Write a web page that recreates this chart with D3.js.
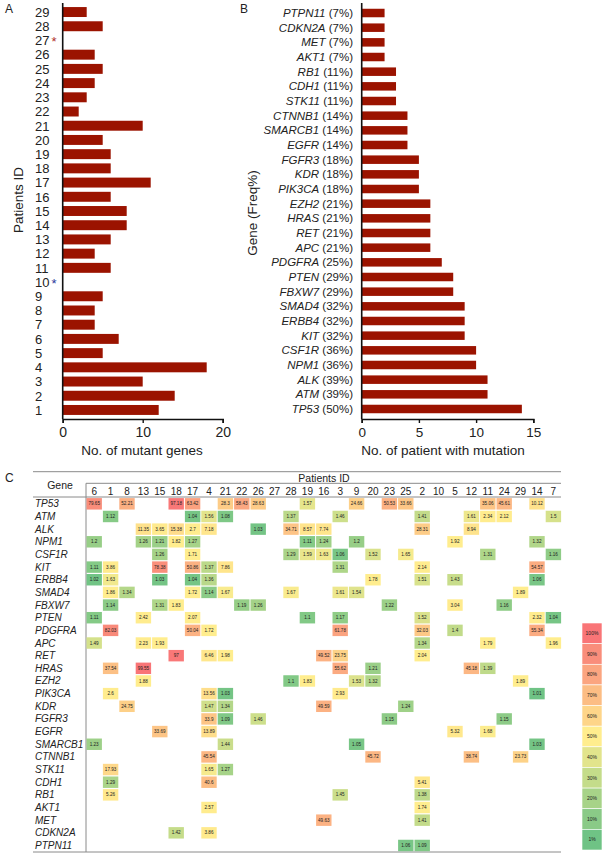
<!DOCTYPE html>
<meta charset='utf-8'>
<head>
    <title>Mutations</title>
    <script src='https://cdn.jsdelivr.net/npm/d3@7/dist/d3.min.js'></script>
</head>

<style>
    body { margin: 0; background: #fff; }
    svg text { font-family: 'Liberation Sans', Arial, sans-serif; fill: #222; }
    .bar { fill: #9b1300; }
    .axis path, .axis line { stroke: #111; }
    .grid { stroke: #8a8a8a; stroke-width: 1; }
</style>

<svg></svg>

<script>
    // panel A: mutant genes per patient
    var patientIds = [1, 2, 3, 4, 5, 6, 7, 8, 9, 10, 11, 12, 13, 14, 15, 16, 17, 18, 19, 20, 21, 22, 23, 24, 25, 26, 27, 28, 29];
    var mutantCounts = [12, 14, 10, 18, 5, 7, 4, 4, 5, 0, 6, 4, 6, 8, 8, 6, 11, 6, 6, 5, 10, 2, 3, 4, 5, 4, 0, 5, 3];
    var starredIds = [10, 27];
    var countTicks = [0, 10, 20];

    // panel B: patients per gene
    var freqGenes = ['PTPN11', 'CDKN2A', 'MET', 'AKT1', 'RB1', 'CDH1', 'STK11', 'CTNNB1', 'SMARCB1', 'EGFR',
        'FGFR3', 'KDR', 'PIK3CA', 'EZH2', 'HRAS', 'RET', 'APC', 'PDGFRA', 'PTEN', 'FBXW7',
        'SMAD4', 'ERBB4', 'KIT', 'CSF1R', 'NPM1', 'ALK', 'ATM', 'TP53'];
    var freqPct = [7, 7, 7, 7, 11, 11, 11, 14, 14, 14, 18, 18, 18, 21, 21, 21, 21, 25, 29, 29, 32, 32, 32, 36, 36, 39, 39, 50];
    var freqCounts = [2, 2, 2, 2, 3, 3, 3, 4, 4, 4, 5, 5, 5, 6, 6, 6, 6, 7, 8, 8, 9, 9, 9, 10, 10, 11, 11, 14];
    var freqTicks = [0, 5, 10, 15];

    // panel C: allele frequency per gene / patient
    var heatPatients = [6, 1, 8, 13, 15, 18, 17, 4, 21, 22, 26, 27, 28, 19, 16, 3, 9, 20, 23, 25, 2, 10, 5, 12, 11, 24, 29, 14, 7];
    var heatGenes = ['TP53', 'ATM', 'ALK', 'NPM1', 'CSF1R', 'KIT', 'ERBB4', 'SMAD4', 'FBXW7', 'PTEN', 'PDGFRA', 'APC',
        'RET', 'HRAS', 'EZH2', 'PIK3CA', 'KDR', 'FGFR3', 'EGFR', 'SMARCB1', 'CTNNB1', 'STK11', 'CDH1', 'RB1',
        'AKT1', 'MET', 'CDKN2A', 'PTPN11'];
    var heatValues = [
        [[6, 79.65], [8, 52.21], [18, 97.18], [17, 63.42], [21, 28.3], [22, 58.43], [26, 28.63], [19, 1.57], [9, 24.66], [23, 50.53], [25, 33.66], [11, 35.06], [24, 45.61], [14, 10.12]],
        [[1, 1.12], [17, 1.04], [4, 1.56], [21, 1.08], [28, 1.37], [3, 1.46], [2, 1.41], [12, 1.61], [11, 2.34], [24, 2.12], [7, 1.5]],
        [[13, 11.35], [15, 3.65], [18, 15.38], [17, 2.7], [4, 7.18], [26, 1.03], [28, 34.71], [19, 8.57], [16, 7.74], [2, 28.31], [12, 8.94]],
        [[6, 1.2], [13, 1.26], [15, 1.21], [18, 1.82], [17, 1.27], [19, 1.11], [16, 1.24], [9, 1.2], [5, 1.92], [14, 1.32]],
        [[15, 1.26], [17, 1.71], [28, 1.29], [19, 1.59], [16, 1.63], [3, 1.06], [20, 1.52], [25, 1.65], [11, 1.31], [7, 1.16]],
        [[6, 1.11], [1, 3.86], [15, 78.38], [17, 50.86], [4, 1.37], [21, 7.86], [3, 1.31], [2, 2.14], [14, 54.57]],
        [[6, 1.02], [1, 1.63], [15, 1.03], [17, 1.04], [4, 1.36], [20, 1.78], [2, 1.51], [5, 1.43], [14, 1.06]],
        [[1, 1.86], [8, 1.34], [17, 1.72], [4, 1.14], [21, 1.67], [28, 1.67], [3, 1.61], [9, 1.54], [29, 1.89]],
        [[1, 1.14], [15, 1.31], [18, 1.83], [22, 1.19], [26, 1.26], [23, 1.22], [5, 3.04], [24, 1.16]],
        [[6, 1.11], [13, 2.42], [17, 2.07], [19, 1.1], [3, 1.17], [2, 1.52], [14, 2.32], [7, 1.04]],
        [[1, 82.03], [17, 50.04], [4, 1.72], [3, 61.78], [2, 32.03], [5, 1.4], [14, 55.34]],
        [[6, 1.49], [13, 2.23], [15, 1.93], [2, 1.34], [11, 1.79], [7, 1.96]],
        [[18, 97], [4, 6.46], [21, 1.98], [16, 49.52], [3, 23.75], [2, 2.04]],
        [[1, 37.54], [13, 99.55], [3, 55.62], [20, 1.21], [12, 45.18], [11, 1.39]],
        [[13, 1.88], [28, 1.1], [19, 1.83], [9, 1.53], [20, 1.32], [29, 1.89]],
        [[1, 2.6], [4, 13.56], [21, 1.03], [3, 2.93], [14, 1.01]],
        [[8, 24.75], [4, 1.47], [21, 1.34], [16, 49.59], [25, 1.24]],
        [[4, 33.9], [21, 1.09], [26, 1.46], [23, 1.15], [24, 1.15]],
        [[15, 33.69], [4, 13.89], [5, 5.32], [11, 1.68]],
        [[6, 1.23], [21, 1.44], [9, 1.05], [14, 1.03]],
        [[4, 45.54], [20, 45.72], [12, 38.74], [29, 23.73]],
        [[1, 17.93], [4, 1.65], [21, 1.27]],
        [[1, 1.29], [4, 40.6], [2, 5.41]],
        [[1, 5.26], [3, 1.45], [2, 1.38]],
        [[4, 2.57], [2, 1.74]],
        [[16, 49.63], [2, 1.41]],
        [[18, 1.42], [4, 3.86]],
        [[25, 1.06], [2, 1.09]]
    ];
    var legendSteps = [100, 90, 80, 70, 60, 50, 40, 30, 20, 10, 1];

    var svg = d3.select('svg').attr('width', 604).attr('height', 853);

    // panel letters
    svg.append('text').attr('x', 5).attr('y', 13).style('font-size', '12px').text('A');
    svg.append('text').attr('x', 240).attr('y', 13).style('font-size', '12px').text('B');
    svg.append('text').attr('x', 5).attr('y', 482).style('font-size', '12px').text('C');

    // ---------- A ----------
    var gA = svg.append('g');
    var yA = d3.scaleBand().domain(patientIds.slice().reverse()).range([2.8, 419.2]).padding(0.3);
    var xA = d3.scaleLinear().domain([0, 20]).range([62.7, 222.7]);

    gA.selectAll('rect').data(patientIds).enter().append('rect')
        .attr('class', 'bar')
        .attr('x', xA(0))
        .attr('y', function (d) { return yA(d); })
        .attr('height', yA.bandwidth())
        .attr('width', function (d, i) { return xA(mutantCounts[i]) - xA(0); });

    gA.selectAll('.pid').data(patientIds).enter().append('text')
        .attr('class', 'pid')
        .attr('x', 35)
        .attr('y', function (d) { return yA(d) + yA.bandwidth() / 2 + 4.8; })
        .style('font-size', '13px')
        .text(function (d) { return d; });

    gA.selectAll('.star').data(starredIds).enter().append('text')
        .attr('x', 51.5)
        .attr('y', function (d) { return yA(d) + yA.bandwidth() / 2 + 5.5; })
        .style('font-size', '13px')
        .style('fill', function (d) { return d === 27 ? '#b0302c' : '#2a3a9c'; })
        .text('*');

    gA.append('line').attr('x1', xA(0)).attr('x2', xA(0)).attr('y1', 3).attr('y2', 419)
        .attr('stroke', '#111').attr('stroke-width', 1.6);
    gA.append('g').attr('class', 'axis').attr('transform', 'translate(0,419)')
        .call(d3.axisBottom(xA).tickValues(countTicks).tickSizeOuter(0).tickSize(4).tickPadding(4))
        .call(function (g) {
            g.select('.domain').attr('stroke-width', 1.6);
            g.selectAll('line').attr('stroke-width', 1.4);
            g.selectAll('text').style('font-size', '14px').style('font-family', 'Liberation Sans, Arial').attr('fill', '#222');
        });
    gA.append('text').attr('x', 142).attr('y', 455).attr('text-anchor', 'middle')
        .style('font-size', '13.5px').text('No. of mutant genes');
    gA.append('text').attr('transform', 'translate(23,200) rotate(-90)').attr('text-anchor', 'middle')
        .style('font-size', '13.5px').text('Patients ID');

    // ---------- B ----------
    var gB = svg.append('g');
    var yB = d3.scaleBand().domain(freqGenes).range([2.6, 419.4]).padding(0.42);
    var xB = d3.scaleLinear().domain([0, 15]).range([361.7, 533.3]);

    gB.selectAll('rect').data(freqGenes).enter().append('rect')
        .attr('class', 'bar')
        .attr('x', xB(0))
        .attr('y', function (d) { return yB(d); })
        .attr('height', yB.bandwidth())
        .attr('width', function (d, i) { return xB(freqCounts[i]) - xB(0); });

    var gl = gB.selectAll('.gl').data(freqGenes).enter().append('text')
        .attr('x', 353)
        .attr('y', function (d) { return yB(d) + yB.bandwidth() / 2 + 4; })
        .attr('text-anchor', 'end')
        .style('font-size', '11.5px');
    gl.append('tspan').style('font-style', 'italic').text(function (d) { return d; });
    gl.append('tspan').text(function (d, i) { return ' (' + freqPct[i] + '%)'; });

    gB.append('line').attr('x1', xB(0)).attr('x2', xB(0)).attr('y1', 3).attr('y2', 419)
        .attr('stroke', '#111').attr('stroke-width', 1.6);
    gB.append('g').attr('class', 'axis').attr('transform', 'translate(0,419)')
        .call(d3.axisBottom(xB).tickValues(freqTicks).tickSizeOuter(0).tickSize(4).tickPadding(4))
        .call(function (g) {
            g.select('.domain').attr('stroke-width', 1.6);
            g.selectAll('line').attr('stroke-width', 1.4);
            g.selectAll('text').style('font-size', '13.5px').style('font-family', 'Liberation Sans, Arial').attr('fill', '#222');
        });
    gB.append('text').attr('x', 443).attr('y', 455).attr('text-anchor', 'middle')
        .style('font-size', '13.5px').text('No. of patient with mutation');
    gB.append('text').attr('transform', 'translate(257,213) rotate(-90)').attr('text-anchor', 'middle')
        .style('font-size', '13.5px').text('Gene (Freq%)');

    // ---------- C ----------
    var gC = svg.append('g');
    var xC = d3.scaleBand().domain(heatPatients).range([86, 561.6]);
    var yC = d3.scaleBand().domain(heatGenes).range([497.5, 851.8]);

    var cells = [];
    heatGenes.forEach(function (g, i) {
        heatValues[i].forEach(function (p) { cells.push({gene: g, patient: p[0], value: p[1]}); });
    });
    var vals = cells.map(function (c) { return c.value; });
    var color = d3.scaleLinear()
        .domain([d3.min(vals), d3.median(vals), d3.max(vals)])
        .range(['#63be7b', '#ffeb84', '#f8696b']);

    // frame lines
    gC.append('line').attr('class', 'grid').attr('x1', 33).attr('x2', 561).attr('y1', 471.7).attr('y2', 471.7);
    gC.append('line').attr('class', 'grid').attr('x1', 86).attr('x2', 561).attr('y1', 483.3).attr('y2', 483.3);
    gC.append('line').attr('class', 'grid').attr('x1', 33).attr('x2', 561).attr('y1', 497).attr('y2', 497);
    gC.append('line').attr('class', 'grid').attr('x1', 33).attr('x2', 561).attr('y1', 852).attr('y2', 852);
    gC.append('line').attr('class', 'grid').attr('x1', 86).attr('x2', 86).attr('y1', 483.3).attr('y2', 852);

    gC.append('text').attr('x', 60).attr('y', 489).attr('text-anchor', 'middle')
        .style('font-size', '10.5px').text('Gene');
    gC.append('text').attr('x', 324).attr('y', 481.5).attr('text-anchor', 'middle')
        .style('font-size', '10.5px').text('Patients ID');

    gC.selectAll('.col').data(heatPatients).enter().append('text')
        .attr('x', function (d) { return xC(d) + xC.bandwidth() / 2; })
        .attr('y', 494.5)
        .attr('text-anchor', 'middle')
        .style('font-size', '10px')
        .text(function (d) { return d; });

    gC.selectAll('.row').data(heatGenes).enter().append('text')
        .attr('x', 35)
        .attr('y', function (d) { return yC(d) + yC.bandwidth() / 2 + 3.5; })
        .style('font-size', '10px').style('font-style', 'italic')
        .text(function (d) { return d; });

    var cg = gC.selectAll('.cell').data(cells).enter().append('g');
    cg.append('rect')
        .attr('x', function (d) { return xC(d.patient) + 0.5; })
        .attr('y', function (d) { return yC(d.gene) + 0.6; })
        .attr('width', xC.bandwidth() - 1)
        .attr('height', yC.bandwidth() - 1.2)
        .attr('fill', function (d) { return color(d.value); })
        .attr('fill-opacity', 0.92);
    cg.append('text')
        .attr('x', function (d) { return xC(d.patient) + xC.bandwidth() / 2; })
        .attr('y', function (d) { return yC(d.gene) + yC.bandwidth() / 2 + 1.6; })
        .attr('text-anchor', 'middle')
        .style('font-size', '4.6px')
        .text(function (d) { return d.value; });

    // colour legend
    var legColor = d3.scaleLinear().domain([1, 50, 100]).range(['#63be7b', '#ffeb84', '#f8696b']);
    var yL = d3.scaleBand().domain(legendSteps).range([623, 850]);
    var lg = svg.append('g').selectAll('g').data(legendSteps).enter().append('g');
    lg.append('rect')
        .attr('x', 582).attr('width', 20)
        .attr('y', function (d) { return yL(d); })
        .attr('height', yL.bandwidth())
        .attr('fill', function (d) { return legColor(d); })
        .attr('fill-opacity', 0.92)
        .attr('stroke', '#fff').attr('stroke-width', 0.6);
    lg.append('text')
        .attr('x', 592)
        .attr('y', function (d) { return yL(d) + yL.bandwidth() / 2 + 1.8; })
        .attr('text-anchor', 'middle')
        .style('font-size', '5px')
        .text(function (d) { return d + '%'; });
</script>
